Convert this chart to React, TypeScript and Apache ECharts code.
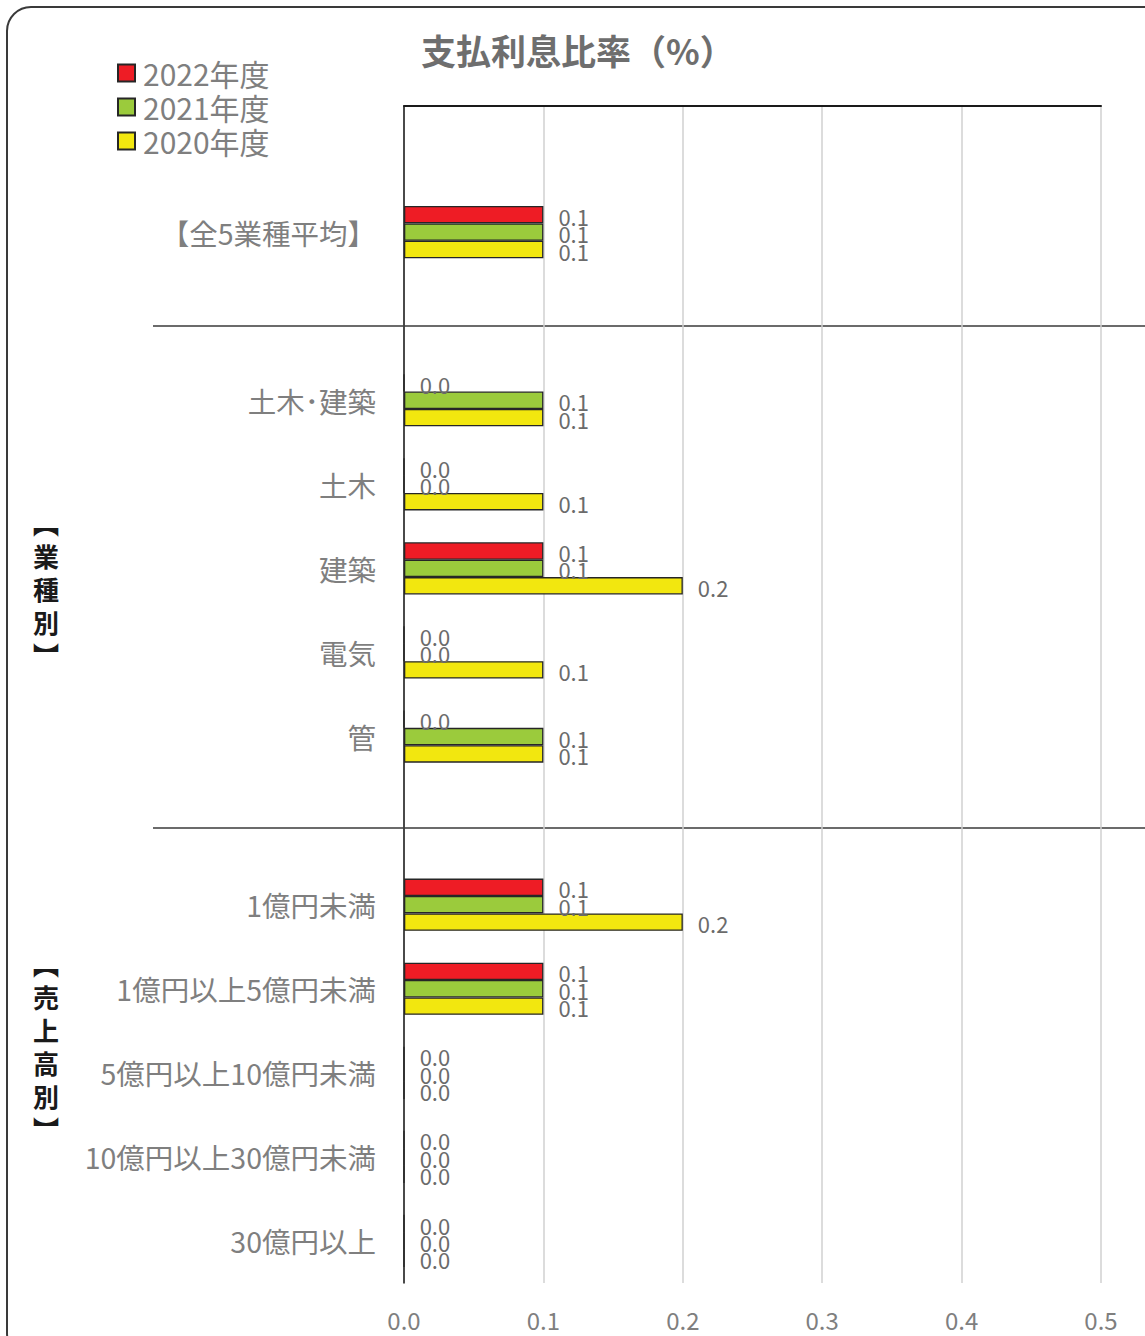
import React, { useEffect, useRef } from "react";
import * as echarts from "echarts";

const categories = [
  "",
  "【全5業種平均】",
  " ",
  "土木･建築",
  "土木",
  "建築",
  "電気",
  "管",
  "  ",
  "1億円未満",
  "1億円以上5億円未満",
  "5億円以上10億円未満",
  "10億円以上30億円未満",
  "30億円以上",
];

const seriesNames = ["2022年度", "2021年度", "2020年度"];
const values2022 = [null, 0.1, null, 0.0, 0.0, 0.1, 0.0, 0.0, null, 0.1, 0.1, 0.0, 0.0, 0.0];
const values2021 = [null, 0.1, null, 0.1, 0.0, 0.1, 0.0, 0.1, null, 0.1, 0.1, 0.0, 0.0, 0.0];
const values2020 = [null, 0.1, null, 0.1, 0.1, 0.2, 0.1, 0.1, null, 0.2, 0.1, 0.0, 0.0, 0.0];
const seriesColors = ["#EE1C25", "#9BCB3C", "#F2E70F"];

const xTicks = [0, 0.1, 0.2, 0.3, 0.4, 0.5];

const FONT = "'Noto Sans CJK JP', 'Noto Sans', sans-serif";

export default function App() {
  const ref = useRef<HTMLDivElement>(null);
  useEffect(() => {
    document.body.style.margin = "0";
    const chart = echarts.init(ref.current!, undefined, { renderer: "svg" });
    const allValues = [values2022, values2021, values2020];
    const option: any = {
      animation: false,
      backgroundColor: "#ffffff",
      textStyle: { fontFamily: FONT },
      title: {
        text: "支払利息比率（%）",
        left: 421,
        top: 32,
        padding: 0,
        textStyle: { fontFamily: FONT, fontSize: 35, fontWeight: "bold", color: "#6e6e6e" },
      },
      legend: {
        orient: "vertical",
        left: 117,
        top: 56,
        padding: 0,
        itemWidth: 17,
        itemHeight: 17,
        itemGap: 0,
        icon: "rect",
        textStyle: { fontFamily: FONT, fontSize: 30, color: "#7f7f7f", lineHeight: 34, padding: [0, 0, 0, 3] },
        data: seriesNames,
      },
      grid: { left: 404, right: 44, top: 106, bottom: 53, containLabel: false },
      xAxis: [
        {
          type: "value",
          position: "bottom",
          min: xTicks[0],
          max: xTicks[xTicks.length - 1],
          interval: 0.1,
          axisLine: { show: false },
          axisTick: { show: false },
          axisLabel: {
            fontFamily: FONT,
            fontSize: 24,
            color: "#7f7f7f",
            margin: 24,
            formatter: (v: number) => v.toFixed(1),
          },
          splitLine: { show: true, lineStyle: { color: "#d0d0d0", width: 1.5 } },
        },
        {
          type: "value",
          position: "top",
          min: xTicks[0],
          max: xTicks[xTicks.length - 1],
          interval: 0.1,
          axisLine: { show: true, onZero: false, lineStyle: { color: "#1a1a1a", width: 2 } },
          axisTick: { show: false },
          axisLabel: { show: false },
          splitLine: { show: false },
        },
      ],
      yAxis: {
        type: "category",
        inverse: true,
        data: categories,
        axisLine: { show: true, lineStyle: { color: "#1a1a1a", width: 1.5 } },
        axisTick: { show: false },
        axisLabel: { fontFamily: FONT, fontSize: 28.5, color: "#7f7f7f", margin: 28 },
        splitLine: { show: false },
      },
      series: seriesNames.map((name, i) => ({
        name,
        type: "bar",
        xAxisIndex: 0,
        data: allValues[i],
        barWidth: 17.4,
        barGap: "0%",
        itemStyle: { color: seriesColors[i], borderColor: "#262626", borderWidth: 1.3 },
        label: {
          show: true,
          position: "right",
          distance: 15,
          fontFamily: FONT,
          fontSize: 22,
          color: "#6b6b6b",
          offset: [0, 1],
          formatter: (p: any) => (p.value == null ? "" : Number(p.value).toFixed(1)),
        },
      })),
      graphic: [
        {
          type: "rect",
          shape: { x: 7, y: 7, width: 1160, height: 1350, r: 24 },
          style: { fill: "none", stroke: "#3a3a3a", lineWidth: 2 },
          silent: true,
        },
        {
          type: "line",
          shape: { x1: 153, y1: 326, x2: 1145, y2: 326 },
          style: { stroke: "#3a3a3a", lineWidth: 1.5 },
        },
        {
          type: "line",
          shape: { x1: 153, y1: 828, x2: 1145, y2: 828 },
          style: { stroke: "#3a3a3a", lineWidth: 1.5 },
        },
        {
          type: "text",
          x: 46,
          y: 588,
          style: {
            text: "︻\n業\n種\n別\n︼",
            font: `bold 26px ${FONT}`,
            fill: "#1a1a1a",
            align: "center",
            verticalAlign: "middle",
            lineHeight: 33,
          },
        },
        {
          type: "text",
          x: 46,
          y: 1046,
          style: {
            text: "︻\n売\n上\n高\n別\n︼",
            font: `bold 26px ${FONT}`,
            fill: "#1a1a1a",
            align: "center",
            verticalAlign: "middle",
            lineHeight: 33,
          },
        },
      ],
    };
    chart.setOption(option);
    return () => chart.dispose();
  }, []);
  return <div ref={ref} style={{ width: 1145, height: 1336 }} />;
}
